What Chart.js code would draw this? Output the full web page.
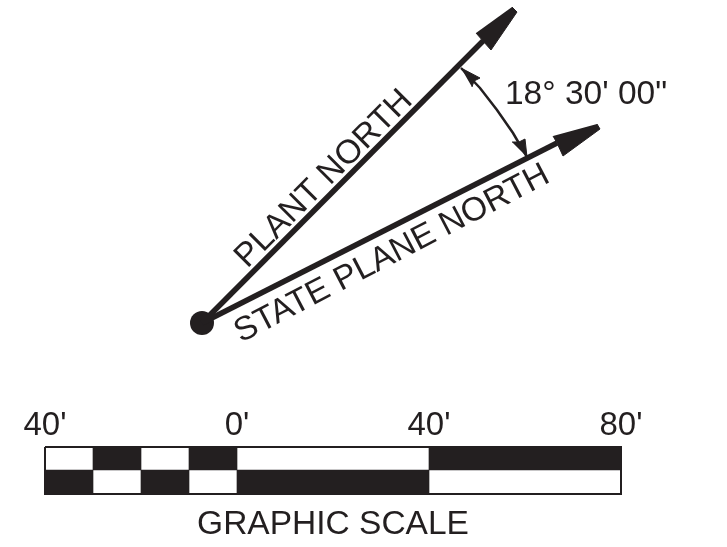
<!DOCTYPE html>
<html>
<head>
<meta charset="utf-8">
<title>Graphic scale</title>
<script src="https://cdn.jsdelivr.net/npm/chart.js@4"></script>
<style>
    html, body { margin: 0; padding: 0; background: #ffffff; }
    #wrap { width: 727px; height: 547px; }
</style>
</head>
<body>
<div id="wrap"><canvas id="grafica"></canvas></div>
<script>
// lines of the north arrow
const origin = [[202, 323]];
const plantNorth = [[202, 323], [483, 41]];
const planeNorth = [[202, 323], [557, 143]];
const plantHead = [[512, 7], [517, 12], [491, 50], [483, 41], [476, 33]];
const planeHead = [[597, 124], [600, 129], [563, 156], [557, 143], [553, 136]];
const angleArc = [[461, 68], [480, 88], [497, 110], [513, 133], [527, 157]];
const arcHeadTop = [[461, 68], [480, 78], [474, 81], [472, 87]];
const arcHeadBottom = [[527, 157], [525, 139], [519, 142], [512, 142]];

// graphic scale, in feet
const scaleTicks = [-40, 0, 40, 80];
const scaleLabels = ["40'", "0'", "40'", "80'"];
const topRowBlack = [[-30, -20], [-10, 0], [40, 80]];
const bottomRowBlack = [[-40, -30], [-20, -10], [0, 40]];

const tinta = "#231f20";
const fuente = '"Liberation Sans", Arial, sans-serif';

function puntos(lista) {
    return lista.map((p) => ({ x: p[0], y: p[1] }));
}

function linea(lista, ancho) {
    return {
        data: puntos(lista),
        showLine: true,
        borderColor: tinta,
        borderWidth: ancho,
        pointRadius: 0
    };
}

function cabeza(lista) {
    return {
        data: puntos(lista),
        showLine: true,
        fill: "shape",
        backgroundColor: tinta,
        borderColor: tinta,
        borderWidth: 1,
        pointRadius: 0
    };
}

function filaBarras(lista, centro, grueso) {
    return {
        type: "bar",
        indexAxis: "y",
        xAxisID: "pies",
        yAxisID: "y",
        data: lista.map((r) => ({ x: r, y: centro })),
        backgroundColor: tinta,
        barThickness: grueso,
        grouped: false
    };
}

// outline of the scale box, drawn in feet like the cells
const marcoEscala = {
    data: [
        { x: -40, y: 447 }, { x: 80, y: 447 },
        { x: 80, y: 494 }, { x: -40, y: 494 }, { x: -40, y: 447 }
    ],
    xAxisID: "pies",
    yAxisID: "y",
    showLine: true,
    borderColor: tinta,
    borderWidth: 2,
    pointRadius: 0
};

// text that does not belong to an axis
const textos = [
    { text: "18° 30' 00\"", x: 586, y: 95, angle: 0 },
    { text: "PLANT NORTH", x: 324, y: 179, angle: -45 },
    { text: "STATE PLANE NORTH", x: 392, y: 254, angle: -27.5 },
    { text: "GRAPHIC SCALE", x: 333, y: 525, angle: 0 }
];

const pluginTextos = {
    id: "textos",
    afterDraw(chart) {
        const ctx = chart.ctx;
        const ex = chart.scales.x;
        const ey = chart.scales.y;
        ctx.save();
        ctx.fillStyle = tinta;
        ctx.font = "33.5px " + fuente;
        ctx.textAlign = "center";
        ctx.textBaseline = "middle";
        textos.forEach((t) => {
            ctx.save();
            ctx.translate(ex.getPixelForValue(t.x), ey.getPixelForValue(t.y));
            ctx.rotate(t.angle * Math.PI / 180);
            ctx.fillText(t.text, 0, 0);
            ctx.restore();
        });
        ctx.restore();
    }
};

new Chart(document.getElementById("grafica"), {
    type: "scatter",
    data: {
        datasets: [
            linea(plantNorth, 5.5),
            linea(planeNorth, 5.5),
            cabeza(plantHead),
            cabeza(planeHead),
            linea(angleArc, 2.5),
            cabeza(arcHeadTop),
            cabeza(arcHeadBottom),
            {
                data: puntos(origin),
                pointRadius: 12,
                pointBackgroundColor: tinta,
                pointBorderWidth: 0
            },
            filaBarras(topRowBlack, 458.5, 23),
            filaBarras(bottomRowBlack, 482, 24),
            marcoEscala
        ]
    },
    plugins: [pluginTextos],
    options: {
        responsive: true,
        maintainAspectRatio: false,
        animation: false,
        layout: { padding: 0, autoPadding: false },
        plugins: {
            legend: { display: false },
            tooltip: { enabled: false }
        },
        elements: { line: { tension: 0 } },
        scales: {
            x: { type: "linear", display: false, offset: false, min: 0, max: 727 },
            y: { type: "linear", display: false, offset: false, min: 0, max: 547, reverse: true },
            pies: {
                type: "linear",
                offset: false,
                min: -49.375,
                max: 102.083,
                position: { y: 398 },
                border: { display: false },
                grid: { display: false },
                afterBuildTicks(escala) {
                    escala.ticks = scaleTicks.map((v) => ({ value: v }));
                },
                afterFit(escala) {
                    // the axis sits inside the plot, so it must not take room from it
                    escala.height = 0;
                    escala.paddingLeft = 0;
                    escala.paddingRight = 0;
                    escala.paddingTop = 0;
                    escala.paddingBottom = 0;
                },
                ticks: {
                    color: tinta,
                    autoSkip: false,
                    maxRotation: 0,
                    padding: 0,
                    font: { family: fuente, size: 33 },
                    callback(valor) {
                        return scaleLabels[scaleTicks.indexOf(valor)];
                    }
                }
            }
        }
    }
});
</script>
</body>
</html>
